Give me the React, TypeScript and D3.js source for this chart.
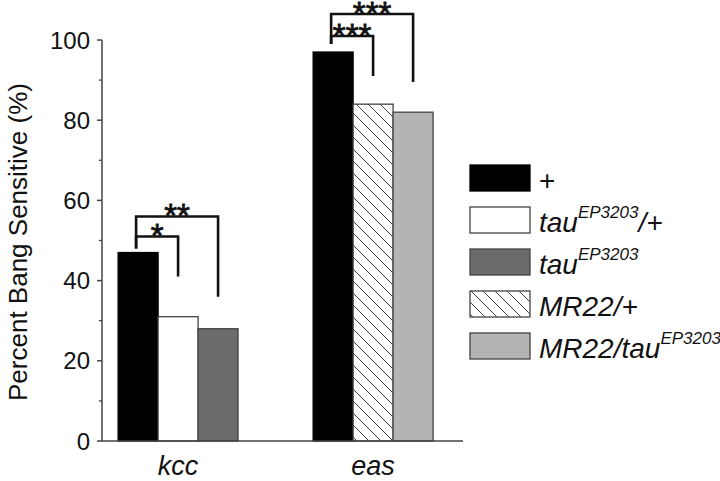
import React from "react";
import * as d3 from "d3";

const WIDTH = 720;
const HEIGHT = 481;

// categories and values
const groups = ["kcc", "eas"];
const kccGenotypes = ["plus", "tauHet", "tau"];
const easGenotypes = ["plus", "mr22Het", "mr22Tau"];
const kccValues = [47, 31, 28];
const easValues = [97, 84, 82];
const yTicks = [0, 20, 40, 60, 80, 100];
const yMinorTicks = [10, 30, 50, 70, 90];

// significance brackets: bar indices within a group, heights in % units
const bracketGroups = ["kcc", "kcc", "eas", "eas"];
const bracketFrom = [0, 0, 0, 0];
const bracketTo = [1, 2, 1, 2];
const bracketTop = [51, 56, 101, 106.5];
const bracketLeftEnd = [48, 48, 99, 99];
const bracketRightEnd = [41, 36, 91, 89.5];
const bracketLabels = ["*", "**", "***", "***"];

const legendKeys = ["plus", "tauHet", "tau", "mr22Het", "mr22Tau"];
const fills: Record<string, string> = {
  plus: "#000000",
  tauHet: "#ffffff",
  tau: "#6b6b6b",
  mr22Het: "url(#hatch)",
  mr22Tau: "#b4b4b4",
};

const FONT = "'Liberation Sans', Arial, Helvetica, sans-serif";

function LegendLabel({ k }: { k: string }) {
  const sup = (
    <tspan fontSize={17} dy={-14}>
      EP3203
    </tspan>
  );
  switch (k) {
    case "plus":
      return <tspan fontStyle="normal">+</tspan>;
    case "tauHet":
      return (
        <>
          <tspan>tau</tspan>
          {sup}
          <tspan dy={14}>/+</tspan>
        </>
      );
    case "tau":
      return (
        <>
          <tspan>tau</tspan>
          {sup}
        </>
      );
    case "mr22Het":
      return <tspan>MR22/+</tspan>;
    default:
      return (
        <>
          <tspan>MR22/tau</tspan>
          {sup}
        </>
      );
  }
}

export default function App() {
  const y = d3.scaleLinear().domain([0, 100]).range([441, 40]);
  const x = d3
    .scaleBand()
    .domain(groups)
    .range([102, 463])
    .paddingInner(0.385)
    .paddingOuter(0.118)
    .align(0.35);
  const bw = x.bandwidth() / 3;

  const series: Record<string, { keys: string[]; values: number[] }> = {
    kcc: { keys: kccGenotypes, values: kccValues },
    eas: { keys: easGenotypes, values: easValues },
  };
  const barX = (g: string, i: number) => (x(g) as number) + i * bw;
  const barMid = (g: string, i: number) => barX(g, i) + bw / 2;

  const legendY = d3.scalePoint().domain(legendKeys).range([165, 333]);

  return (
    <svg
      width={WIDTH}
      height={HEIGHT}
      style={{ position: "absolute", left: 0, top: 0, background: "#fff" }}
      fontFamily={FONT}
    >
      <defs>
        <pattern
          id="hatch"
          patternUnits="userSpaceOnUse"
          width={12}
          height={12}
        >
          <rect width={12} height={12} fill="#fff" />
          <path
            d="M-3,-3 L15,15 M-3,9 L3,15 M9,-3 L15,3"
            stroke="#444"
            strokeWidth={1}
          />
        </pattern>
      </defs>

      {/* bars */}
      {groups.map((g) =>
        series[g].values.map((v, i) => (
          <rect
            key={g + i}
            x={barX(g, i)}
            y={y(v)}
            width={bw}
            height={y(0) - y(v)}
            fill={fills[series[g].keys[i]]}
            stroke={i === 0 ? "#000" : "#444"}
            strokeWidth={1.3}
          />
        ))
      )}

      {/* y axis */}
      <line x1={102} x2={102} y1={y(100)} y2={y(0)} stroke="#444" strokeWidth={1.5} />
      {yTicks.map((t) => (
        <g key={t}>
          <line x1={97} x2={102} y1={y(t)} y2={y(t)} stroke="#444" strokeWidth={1.5} />
          <text x={90} y={y(t)} dy="0.36em" textAnchor="end" fontSize={24} fill="#111">
            {t}
          </text>
        </g>
      ))}
      {yMinorTicks.map((t) => (
        <line key={t} x1={99} x2={102} y1={y(t)} y2={y(t)} stroke="#444" strokeWidth={1.3} />
      ))}
      <text
        transform={`translate(27,242) rotate(-90)`}
        textAnchor="middle"
        fontSize={26}
        fill="#111"
      >
        Percent Bang Sensitive (%)
      </text>

      {/* x axis */}
      <line x1={102} x2={463} y1={y(0)} y2={y(0)} stroke="#444" strokeWidth={1.5} />
      {groups.map((g) => (
        <text
          key={g}
          x={(x(g) as number) + x.bandwidth() / 2}
          y={475}
          textAnchor="middle"
          fontSize={27}
          fontStyle="italic"
          fill="#111"
        >
          {g}
        </text>
      ))}

      {/* significance brackets */}
      {bracketGroups.map((g, j) => {
        const x1 = barMid(g, bracketFrom[j]) - 2;
        const x2 = barMid(g, bracketTo[j]);
        const yt = y(bracketTop[j]);
        return (
          <g key={j}>
            <path
              d={`M${x1},${y(bracketLeftEnd[j])} V${yt} H${x2} V${y(bracketRightEnd[j])}`}
              fill="none"
              stroke="#111"
              strokeWidth={2.6}
            />
            <text
              x={(x1 + x2) / 2}
              y={yt + 11}
              textAnchor="middle"
              fontSize={33}
              fill="#111"
              stroke="#111"
              strokeWidth={0.8}
            >
              {bracketLabels[j]}
            </text>
          </g>
        );
      })}

      {/* legend */}
      {legendKeys.map((k) => {
        const ly = legendY(k) as number;
        return (
          <g key={k}>
            <rect
              x={470}
              y={ly}
              width={60}
              height={26}
              fill={fills[k]}
              stroke={k === "plus" ? "#000" : "#444"}
              strokeWidth={1.3}
            />
            <text x={539} y={ly + 25} fontSize={28} fontStyle="italic" fill="#111">
              <LegendLabel k={k} />
            </text>
          </g>
        );
      })}
    </svg>
  );
}
